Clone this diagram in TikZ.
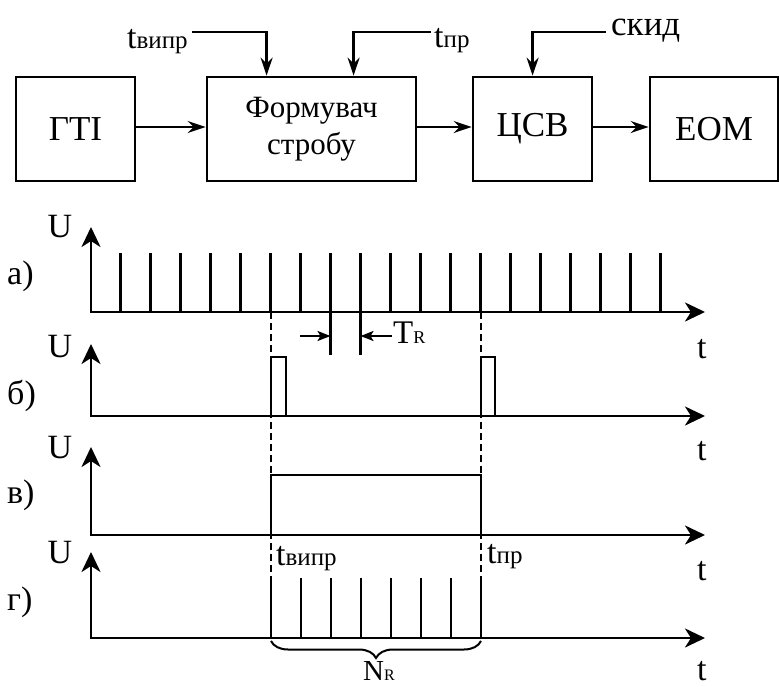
\documentclass[tikz,border=0pt]{standalone}
\usepackage{fontspec}
\setmainfont{Liberation Serif}
\usetikzlibrary{arrows.meta,decorations.pathreplacing}
\newcommand{\fs}[1]{\fontsize{#1}{#1}\selectfont}
\newcommand{\tsb}[1]{t{\fs{25}#1}}
\begin{document}
\begin{tikzpicture}[x=1pt,y=-1pt,
  blk/.style={draw, line width=2.8pt, inner sep=0pt},
  lbl/.style={inner sep=0pt, font=\fs{34}},
  barrow/.style={line width=2.5pt, -{Stealth[length=18pt,width=12pt,inset=6pt]}},
  axisline/.style={line width=2.8pt, {Stealth[length=20pt,width=19pt,inset=6pt]}-{Stealth[length=20pt,width=19pt,inset=6pt]}},
  pulse/.style={line width=2.5pt},
  smallarrow/.style={line width=2.2pt, -{Stealth[length=13pt,width=10pt,inset=3pt]}},
  dashline/.style={line width=1.6pt, dash pattern=on 7pt off 4pt}]
\useasboundingbox (0,0) rectangle (779,686);

% ---- block diagram ----
\node[blk, minimum width=119pt, minimum height=104pt, font=\fs{35}] (gti) at (75.5,129) {ГТІ};
\node[blk, minimum width=209pt, minimum height=104pt, align=center, font=\fontsize{31}{37}\selectfont] (form) at (311.5,129) {Формувач\\стробу};
\node[blk, minimum width=119pt, minimum height=104pt, font=\fs{35}] (csv) at (532.5,129) {ЦСВ};
\node[blk, minimum width=128pt, minimum height=104pt, font=\fs{35}] (eom) at (714,129) {ЕОМ};

\draw[barrow] ([yshift=2pt]gti.east) -- ([yshift=2pt]gti.east -| form.west);
\draw[barrow] ([yshift=2pt]form.east) -- ([yshift=2pt]form.east -| csv.west);
\draw[barrow] ([yshift=2pt]csv.east) -- ([yshift=2pt]csv.east -| eom.west);

\node[lbl, anchor=base west] (tv) at (127,48) {\tsb{випр}};
\node[lbl, anchor=base west] (tp) at (434,47) {\tsb{пр}};
\node[lbl, anchor=base west, font=\fs{35}] (sk) at (611,35) {скид};
\coordinate (tvs) at (192,32);
\coordinate (tps) at (431,32);
\coordinate (sks) at (606,32);
\draw[barrow] (tvs) -| ([xshift=61pt]form.north west);
\draw[barrow] (tps) -| ([xshift=148pt]form.north west);
\draw[barrow] (sks) -| ([xshift=61pt]csv.north west);

% ---- timing diagrams ----
% axes
\draw[axisline] (91,227) -- (91,312) -- (705,312);
\draw[axisline] (91,344) -- (91,416) -- (705,416);
\draw[axisline] (91,447) -- (91,535) -- (705,535);
\draw[axisline] (91,552) -- (91,638) -- (705,638);

% labels U
\node[lbl, anchor=base] (ua) at (60,237) {U};
\node[lbl, anchor=base] (ub) at (60,357) {U};
\node[lbl, anchor=base] (uc) at (60,458) {U};
\node[lbl, anchor=base] (ud) at (60,563) {U};
% row labels
\node[lbl, anchor=base west] (ra) at (7,284) {а)};
\node[lbl, anchor=base west] (rb) at (7,404) {б)};
\node[lbl, anchor=base west] (rc) at (7,503) {в)};
\node[lbl, anchor=base west] (rd) at (7,610) {г)};
% t labels
\node[lbl, anchor=base west] (ta) at (697,358) {t};
\node[lbl, anchor=base west] (tb) at (697,460) {t};
\node[lbl, anchor=base west] (tc) at (697,580) {t};
\node[lbl, anchor=base west] (td) at (697,680) {t};

% a) pulse train
\foreach \k in {0,...,18} \draw[pulse] (120.5+30*\k,312) -- ++(0,-59);
% T_R marker
\draw[pulse] (330.5,312) -- (330.5,355);
\draw[pulse] (360.5,312) -- (360.5,355);
\coordinate (trl) at (300,336);
\coordinate (trr) at (391.5,336);
\draw[smallarrow] (trl) -- (330.5,336);
\draw[smallarrow] (trr) -- (360.5,336);
\node[lbl, anchor=base west, font=\fs{33}] (tr) at (393,343) {T{\fs{18}R}};

% b) strobe pulses
\draw[pulse] (271,416) |- (286,357) -- (286,416);
\draw[pulse] (481,416) |- (495,357) -- (495,416);

% dashed guides
\draw[dashline] (271,312) -- (271,638);
\draw[dashline] (481,312) -- (481,638);

% c) gate
\draw[pulse] (271,535) |- (481,475) -- (481,535);
\node[lbl, anchor=base west] (tv2) at (276,565) {\tsb{випр}};
\node[lbl, anchor=base west] (tp2) at (487,563) {\tsb{пр}};

% d) gated pulses
\foreach \k in {0,...,7} \draw[pulse] (271+30*\k,638) -- ++(0,-60);
\draw[line width=2pt, decorate, decoration={brace, amplitude=17pt, mirror}] (271,641) -- (481,641);
\node[lbl, anchor=base west, font=\fs{29}] (nr) at (363,680) {N{\fs{16}R}};
\end{tikzpicture}
\end{document}
